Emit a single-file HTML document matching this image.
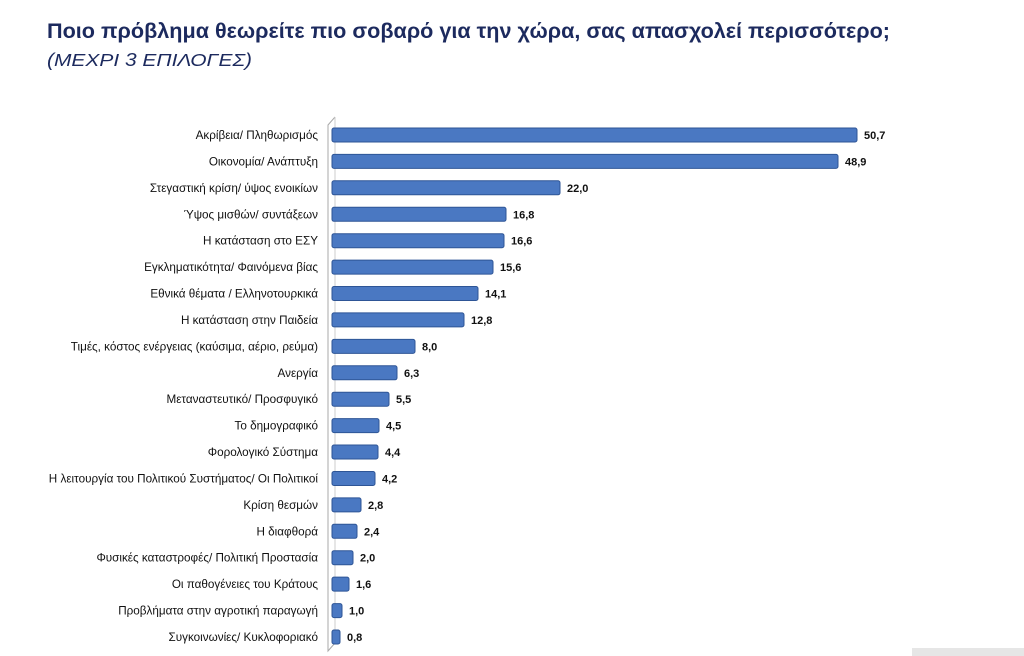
<!DOCTYPE html>
<html><head><meta charset="utf-8"><style>
html,body{margin:0;padding:0;background:#fff;width:1024px;height:656px;overflow:hidden}
svg{display:block}
.l{font-family:"Liberation Sans",sans-serif;font-size:11.7px;fill:#111;text-anchor:end}
.v{font-family:"Liberation Sans",sans-serif;font-size:11px;font-weight:bold;fill:#111}
rect.b{fill:#4a78c2;stroke:#2e5596;stroke-width:1}
</style></head><body>
<svg width="1024" height="656" viewBox="0 0 1024 656">
<text x="47" y="38" font-family="Liberation Sans,sans-serif" font-weight="bold" font-size="21" fill="#1c2a5e" textLength="843" lengthAdjust="spacingAndGlyphs">Ποιο πρόβλημα θεωρείτε πιο σοβαρό για την χώρα, σας απασχολεί περισσότερο;</text>
<text x="47" y="66" font-family="Liberation Sans,sans-serif" font-style="italic" font-size="18" fill="#1c2a5e" textLength="205" lengthAdjust="spacingAndGlyphs">(ΜΕΧΡΙ 3 ΕΠΙΛΟΓΕΣ)</text>
<polyline points="335,117 328,125 328,651 335,643" fill="none" stroke="#aaa" stroke-width="1"/>
<line x1="335" y1="117" x2="335" y2="643" stroke="#ccc" stroke-width="1"/>
<g>
<rect class="b" x="332" y="128" width="525" height="14" rx="2"/><text class="v" x="864" y="139">50,7</text><text class="l" x="318" y="139">Ακρίβεια/ Πληθωρισμός</text>
<rect class="b" x="332" y="154.4" width="506" height="14" rx="2"/><text class="v" x="845" y="165.4">48,9</text><text class="l" x="318" y="165.4">Οικονομία/ Ανάπτυξη</text>
<rect class="b" x="332" y="180.8" width="228" height="14" rx="2"/><text class="v" x="567" y="191.8">22,0</text><text class="l" x="318" y="191.8">Στεγαστική κρίση/ ύψος ενοικίων</text>
<rect class="b" x="332" y="207.3" width="174" height="14" rx="2"/><text class="v" x="513" y="218.3">16,8</text><text class="l" x="318" y="218.3">Ύψος μισθών/ συντάξεων</text>
<rect class="b" x="332" y="233.7" width="172" height="14" rx="2"/><text class="v" x="511" y="244.7">16,6</text><text class="l" x="318" y="244.7">Η κατάσταση στο ΕΣΥ</text>
<rect class="b" x="332" y="260.1" width="161" height="14" rx="2"/><text class="v" x="500" y="271.1">15,6</text><text class="l" x="318" y="271.1">Εγκληματικότητα/ Φαινόμενα βίας</text>
<rect class="b" x="332" y="286.5" width="146" height="14" rx="2"/><text class="v" x="485" y="297.5">14,1</text><text class="l" x="318" y="297.5">Εθνικά θέματα / Ελληνοτουρκικά</text>
<rect class="b" x="332" y="312.9" width="132" height="14" rx="2"/><text class="v" x="471" y="323.9">12,8</text><text class="l" x="318" y="323.9">Η κατάσταση στην Παιδεία</text>
<rect class="b" x="332" y="339.4" width="83" height="14" rx="2"/><text class="v" x="422" y="350.4">8,0</text><text class="l" x="318" y="350.4">Τιμές, κόστος ενέργειας (καύσιμα, αέριο, ρεύμα)</text>
<rect class="b" x="332" y="365.8" width="65" height="14" rx="2"/><text class="v" x="404" y="376.8">6,3</text><text class="l" x="318" y="376.8">Ανεργία</text>
<rect class="b" x="332" y="392.2" width="57" height="14" rx="2"/><text class="v" x="396" y="403.2">5,5</text><text class="l" x="318" y="403.2">Μεταναστευτικό/ Προσφυγικό</text>
<rect class="b" x="332" y="418.6" width="47" height="14" rx="2"/><text class="v" x="386" y="429.6">4,5</text><text class="l" x="318" y="429.6">Το δημογραφικό</text>
<rect class="b" x="332" y="445" width="46" height="14" rx="2"/><text class="v" x="385" y="456">4,4</text><text class="l" x="318" y="456">Φορολογικό Σύστημα</text>
<rect class="b" x="332" y="471.5" width="43" height="14" rx="2"/><text class="v" x="382" y="482.5">4,2</text><text class="l" x="318" y="482.5">Η λειτουργία του Πολιτικού Συστήματος/ Οι Πολιτικοί</text>
<rect class="b" x="332" y="497.9" width="29" height="14" rx="2"/><text class="v" x="368" y="508.9">2,8</text><text class="l" x="318" y="508.9">Κρίση θεσμών</text>
<rect class="b" x="332" y="524.3" width="25" height="14" rx="2"/><text class="v" x="364" y="535.3">2,4</text><text class="l" x="318" y="535.3">Η διαφθορά</text>
<rect class="b" x="332" y="550.7" width="21" height="14" rx="2"/><text class="v" x="360" y="561.7">2,0</text><text class="l" x="318" y="561.7">Φυσικές καταστροφές/ Πολιτική Προστασία</text>
<rect class="b" x="332" y="577.1" width="17" height="14" rx="2"/><text class="v" x="356" y="588.1">1,6</text><text class="l" x="318" y="588.1">Οι παθογένειες του Κράτους</text>
<rect class="b" x="332" y="603.6" width="10" height="14" rx="2"/><text class="v" x="349" y="614.6">1,0</text><text class="l" x="318" y="614.6">Προβλήματα στην αγροτική παραγωγή</text>
<rect class="b" x="332" y="630" width="8" height="14" rx="2"/><text class="v" x="347" y="641">0,8</text><text class="l" x="318" y="641">Συγκοινωνίες/ Κυκλοφοριακό</text>
</g>
<rect x="912" y="648" width="112" height="8" fill="#e6e6e6"/>
</svg>
</body></html>
